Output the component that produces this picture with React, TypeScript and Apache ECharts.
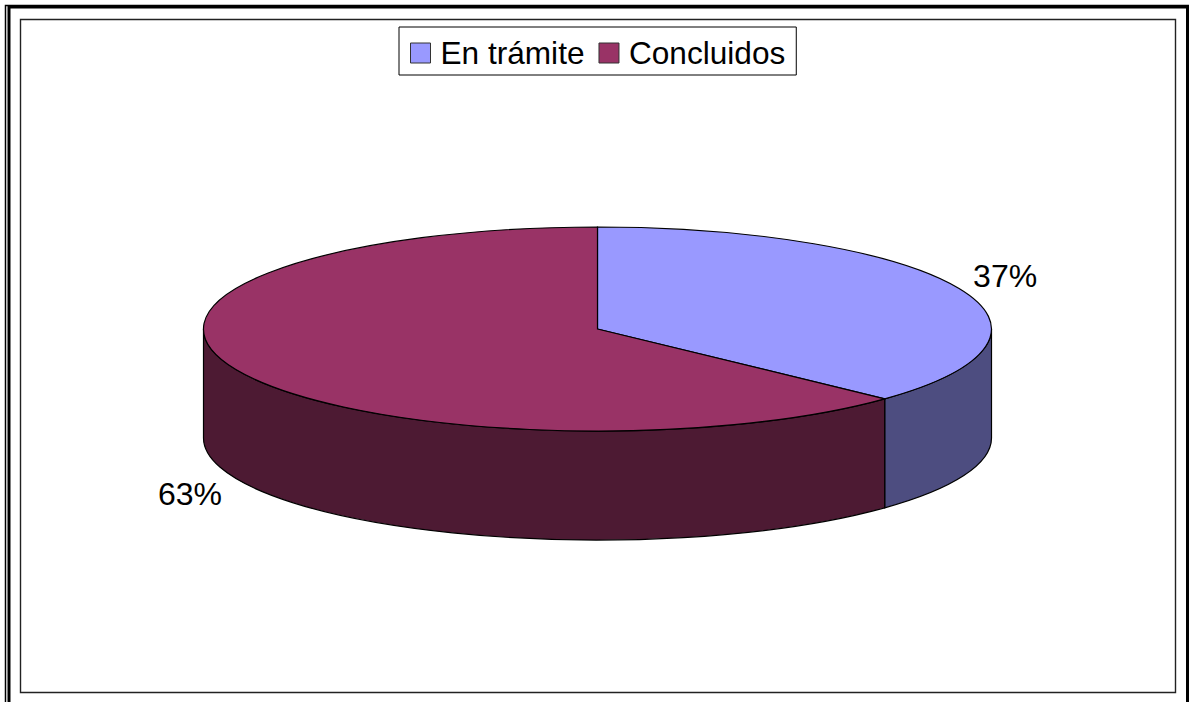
import React, { useEffect, useRef } from "react";
import * as echarts from "echarts";

const categories = ["En trámite", "Concluidos"];
const values = [37, 63];
const labels = ["37%", "63%"];
const topColors = ["#9999FF", "#993366"];
const sideColors = ["#4D4D80", "#4D1A33"];
const labelOffsets = [[46, -12], [-46, 124]];

const CX = 597.5;
const CY = 329;
const RX = 394;
const RY = 102;
const DEPTH = 109;
const FONT = '32px "Liberation Sans", Arial, sans-serif';

const total = values.reduce((a, b) => a + b, 0);
const pt = (deg: number, dy = 0) => {
  const r = (deg * Math.PI) / 180;
  return [CX + RX * Math.cos(r), CY + RY * Math.sin(r) + dy];
};
const f = (n: number) => n.toFixed(2);

function renderSlice(index: number) {
  return (_params: any, api: any) => {
    const prior = values.slice(0, index).reduce((a, b) => a + b, 0);
    const start = -90 + (prior / total) * 360;
    const end = start + (api.value(0) / total) * 360;
    const [sx, sy] = pt(start);
    const [ex, ey] = pt(end);
    const large = end - start > 180 ? 1 : 0;
    const top = `M${CX} ${CY}L${f(sx)} ${f(sy)}A${RX} ${RY} 0 ${large} 1 ${f(ex)} ${f(ey)}Z`;
    const children: any[] = [];
    const a0 = Math.max(start, 0);
    const a1 = Math.min(end, 180);
    if (a1 > a0) {
      const [x0, y0] = pt(a0);
      const [x1, y1] = pt(a1);
      const side = `M${f(x0)} ${f(y0)}A${RX} ${RY} 0 0 1 ${f(x1)} ${f(y1)}L${f(x1)} ${f(y1 + DEPTH)}A${RX} ${RY} 0 0 0 ${f(x0)} ${f(y0 + DEPTH)}Z`;
      children.push({
        type: "path",
        shape: { pathData: side },
        style: { fill: sideColors[index], stroke: "#000", lineWidth: 1.2 },
      });
    }
    children.push({
      type: "path",
      shape: { pathData: top },
      style: { fill: topColors[index], stroke: "#000", lineWidth: 1.2 },
    });
    const mid = (start + end) / 2;
    const [mx, my] = pt(mid);
    children.push({
      type: "text",
      x: mx + labelOffsets[index][0],
      y: my + labelOffsets[index][1],
      style: {
        text: labels[index],
        font: FONT,
        fill: "#000",
        textAlign: "center",
        textVerticalAlign: "middle",
      },
    });
    return { type: "group", children };
  };
}

export default function App() {
  const ref = useRef<HTMLDivElement>(null);
  useEffect(() => {
    const chart = echarts.init(ref.current!, null, { renderer: "svg" });
    chart.setOption({
      animation: false,
      backgroundColor: "#fff",
      graphic: [
        { type: "rect", silent: true, z: 0, shape: { x: 5.5, y: 5.5, width: 1200, height: 720 }, style: { fill: "none", stroke: "#000", lineWidth: 1.5 } },
        { type: "rect", silent: true, z: 0, shape: { x: 9, y: 7, width: 1178.5, height: 720 }, style: { fill: "none", stroke: "#000", lineWidth: 3 } },
        { type: "rect", silent: true, z: 0, shape: { x: 20.5, y: 19.5, width: 1155, height: 673 }, style: { fill: "none", stroke: "#222", lineWidth: 1.4 } },
      ],
      legend: {
        left: 399,
        top: 27,
        padding: [10, 11, 6, 11],
        itemWidth: 20,
        itemHeight: 20,
        itemGap: 14,
        borderColor: "#000",
        borderWidth: 1,
        backgroundColor: "#fff",
        selectedMode: false,
        textStyle: { fontFamily: '"Liberation Sans"', fontSize: 31.6, color: "#000", padding: [0, 0, 0, 5] },
        data: categories.map((name, i) => ({
          name,
          icon: "rect",
          itemStyle: { color: topColors[i], borderColor: "#333", borderWidth: 1 },
        })),
      },
      series: categories.map((name, i) => ({
        type: "custom",
        name,
        coordinateSystem: "none",
        renderItem: renderSlice(i),
        itemStyle: { color: topColors[i] },
        data: [[values[i]]],
        silent: true,
        z: 2 + i,
      })),
    });
    return () => chart.dispose();
  }, []);
  return <div ref={ref} style={{ position: "absolute", left: 0, top: 0, width: 1189, height: 702 }} />;
}
